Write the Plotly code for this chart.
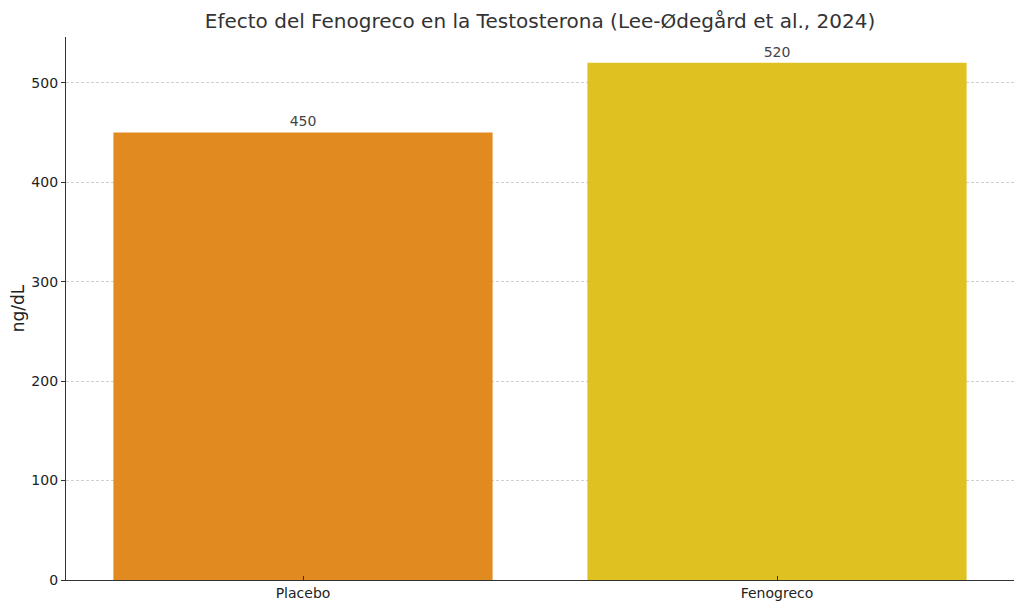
import plotly.graph_objects as go

# datos
grupos = ["Placebo", "Fenogreco"]
testosterona = [450, 520]
colores = ["#E08A20", "#DFC222"]

# la pagina tiene 8px de margen en el body, se descuenta aqui
W, H = 1016, 602

fig = go.Figure()
fig.add_trace(go.Bar(
    x=grupos,
    y=testosterona,
    marker=dict(color=colores, line=dict(width=0)),
    width=0.8,
    text=[str(v) for v in testosterona],
    textposition="outside",
    textfont=dict(family="DejaVu Sans", size=14, color="#444444"),
    cliponaxis=False,
))

fig.update_layout(
    width=W, height=H,
    margin=dict(l=58, r=10, t=29, b=30),
    paper_bgcolor="white", plot_bgcolor="white",
    font=dict(family="DejaVu Sans", color="#222222"),
    title=dict(text="Efecto del Fenogreco en la Testosterona (Lee-Ødegård et al., 2024)",
               x=0.5, xref="paper", xanchor="center",
               y=1 - 13 / H, yref="container", yanchor="middle",
               font=dict(size=20, color="#333333")),
    showlegend=False,
)
fig.update_xaxes(
    range=[-0.5, 1.5], showline=True, linecolor="#333333", linewidth=1.2,
    ticks="inside", ticklen=4, tickcolor="#333333",
    tickfont=dict(size=14, color="#222222"), showgrid=False,
    automargin=False,
)
fig.update_yaxes(
    range=[0, 546], showline=True, linecolor="#333333", linewidth=1.2,
    ticks="outside", ticklen=4, tickcolor="#333333", tickvals=[0, 100, 200, 300, 400, 500],
    tickfont=dict(size=14, color="#222222"),
    showgrid=True, gridcolor="#d0d0d0", griddash="3px,2px", gridwidth=0.8,
    zeroline=False, automargin=False,
    title=dict(text="ng/dL", font=dict(size=17, color="#222222"), standoff=8),
)

fig.write_html("out.html")
